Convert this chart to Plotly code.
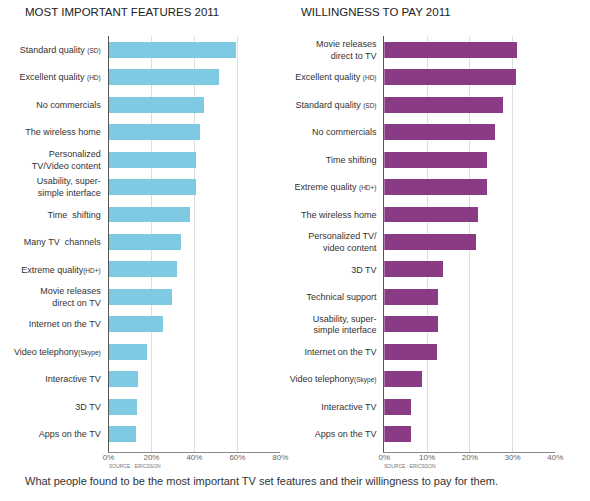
import plotly.graph_objects as go

W, H = 590, 501

def sm(t):
    return "<span style='font-size:6.5px'>" + t + "</span>"

left_labels = [
    "Standard quality " + sm("(SD)"),
    "Excellent quality " + sm("(HD)"),
    "No commercials",
    "The wireless home",
    "Personalized<br>TV/Video content",
    "Usability, super-<br>simple interface",
    "Time  shifting",
    "Many TV  channels",
    "Extreme quality" + sm("(HD+)"),
    "Movie releases<br>direct on TV",
    "Internet on the TV",
    "Video telephony" + sm("(Skype)"),
    "Interactive TV",
    "3D TV",
    "Apps on the TV",
]
left_values = [59, 51, 44.3, 42.3, 40.5, 40.5, 37.6, 33.3, 31.7, 29.5, 25.1, 17.5, 13.5, 12.9, 12.6]

right_labels = [
    "Movie releases<br>direct to TV",
    "Excellent quality " + sm("(HD)"),
    "Standard quality " + sm("(SD)"),
    "No commercials",
    "Time shifting",
    "Extreme quality " + sm("(HD+)"),
    "The wireless home",
    "Personalized TV/<br>video content",
    "3D TV",
    "Technical support",
    "Usability, super-<br>simple interface",
    "Internet on the TV",
    "Video telephony" + sm("(Skype)"),
    "Interactive TV",
    "Apps on the TV",
]
right_values = [31, 30.9, 27.8, 25.9, 24, 24, 22, 21.5, 13.8, 12.7, 12.7, 12.5, 8.8, 6.3, 6.2]

left_ticks = [0, 20, 40, 60, 80]
right_ticks = [0, 10, 20, 30, 40]

titles = ["MOST IMPORTANT FEATURES 2011", "WILLINGNESS TO PAY 2011"]
caption = "What people found to be the most important TV set features and their willingness to pay for them."
source = "SOURCE : ERICSSON"

FONT = "Liberation Sans, Arial, Helvetica, sans-serif"

def px(x):
    return x / W

def py(y):
    return 1 - y / H

fig = go.Figure()
fig.add_trace(go.Bar(x=left_values, y=left_labels, orientation="h",
                     marker=dict(color="#7dcae2", line=dict(width=0)),
                     width=0.58, xaxis="x", yaxis="y", hoverinfo="x+y"))
fig.add_trace(go.Bar(x=right_values, y=right_labels, orientation="h",
                     marker=dict(color="#8a3b85", line=dict(width=0)),
                     width=0.58, xaxis="x2", yaxis="y2", hoverinfo="x+y"))

ydom = [py(452), py(36)]
yrange = [len(left_labels) - 1 + 0.65, -0.5]

common_x = dict(showgrid=True, gridcolor="#dedede", gridwidth=1, zeroline=False,
                showline=True, linecolor="#8a8a8a", linewidth=1, ticks="",
                tickfont=dict(family=FONT, size=8, color="#666"),
                ticklabelstandoff=-3, fixedrange=True)
common_y = dict(showgrid=False, zeroline=False, showline=True, linecolor="#555",
                linewidth=1, ticks="", type="category",
                tickfont=dict(family=FONT, size=9, color="#333"),
                ticklabelstandoff=5, range=yrange, fixedrange=True)

fig.update_layout(
    width=W, height=H,
    margin=dict(l=0, r=0, t=0, b=0),
    paper_bgcolor="white", plot_bgcolor="white",
    showlegend=False, bargap=0,
    xaxis=dict(domain=[px(105), px(281)], range=[0, 80], tickmode="array",
               tickvals=left_ticks, ticktext=[f"{t}%" for t in left_ticks],
               anchor="y", **common_x),
    yaxis=dict(domain=ydom, anchor="x", **common_y),
    xaxis2=dict(domain=[px(387.5), px(562.7)], range=[0, 40], tickmode="array",
                tickvals=right_ticks, ticktext=[f"{t}%" for t in right_ticks],
                anchor="y2", **common_x),
    yaxis2=dict(domain=ydom, anchor="x2", **common_y),
    font=dict(family=FONT),
)

anns = [
    dict(x=px(17), y=py(12), text=titles[0], xanchor="left", yanchor="middle",
         font=dict(size=11.5, color="#222", family=FONT)),
    dict(x=px(300), y=py(12), text=titles[1], xanchor="left", yanchor="middle",
         font=dict(size=11.5, color="#222", family=FONT)),
    dict(x=px(103), y=py(466), text=source, xanchor="left", yanchor="middle",
         font=dict(size=5, color="#777", family=FONT)),
    dict(x=px(385), y=py(466), text=source, xanchor="left", yanchor="middle",
         font=dict(size=5, color="#777", family=FONT)),
    dict(x=px(17), y=py(481), text=caption, xanchor="left", yanchor="middle",
         font=dict(size=11, color="#333", family=FONT)),
]
for a in anns:
    a.update(xref="paper", yref="paper", showarrow=False)
fig.update_layout(annotations=anns)

fig.write_html("out.html")
